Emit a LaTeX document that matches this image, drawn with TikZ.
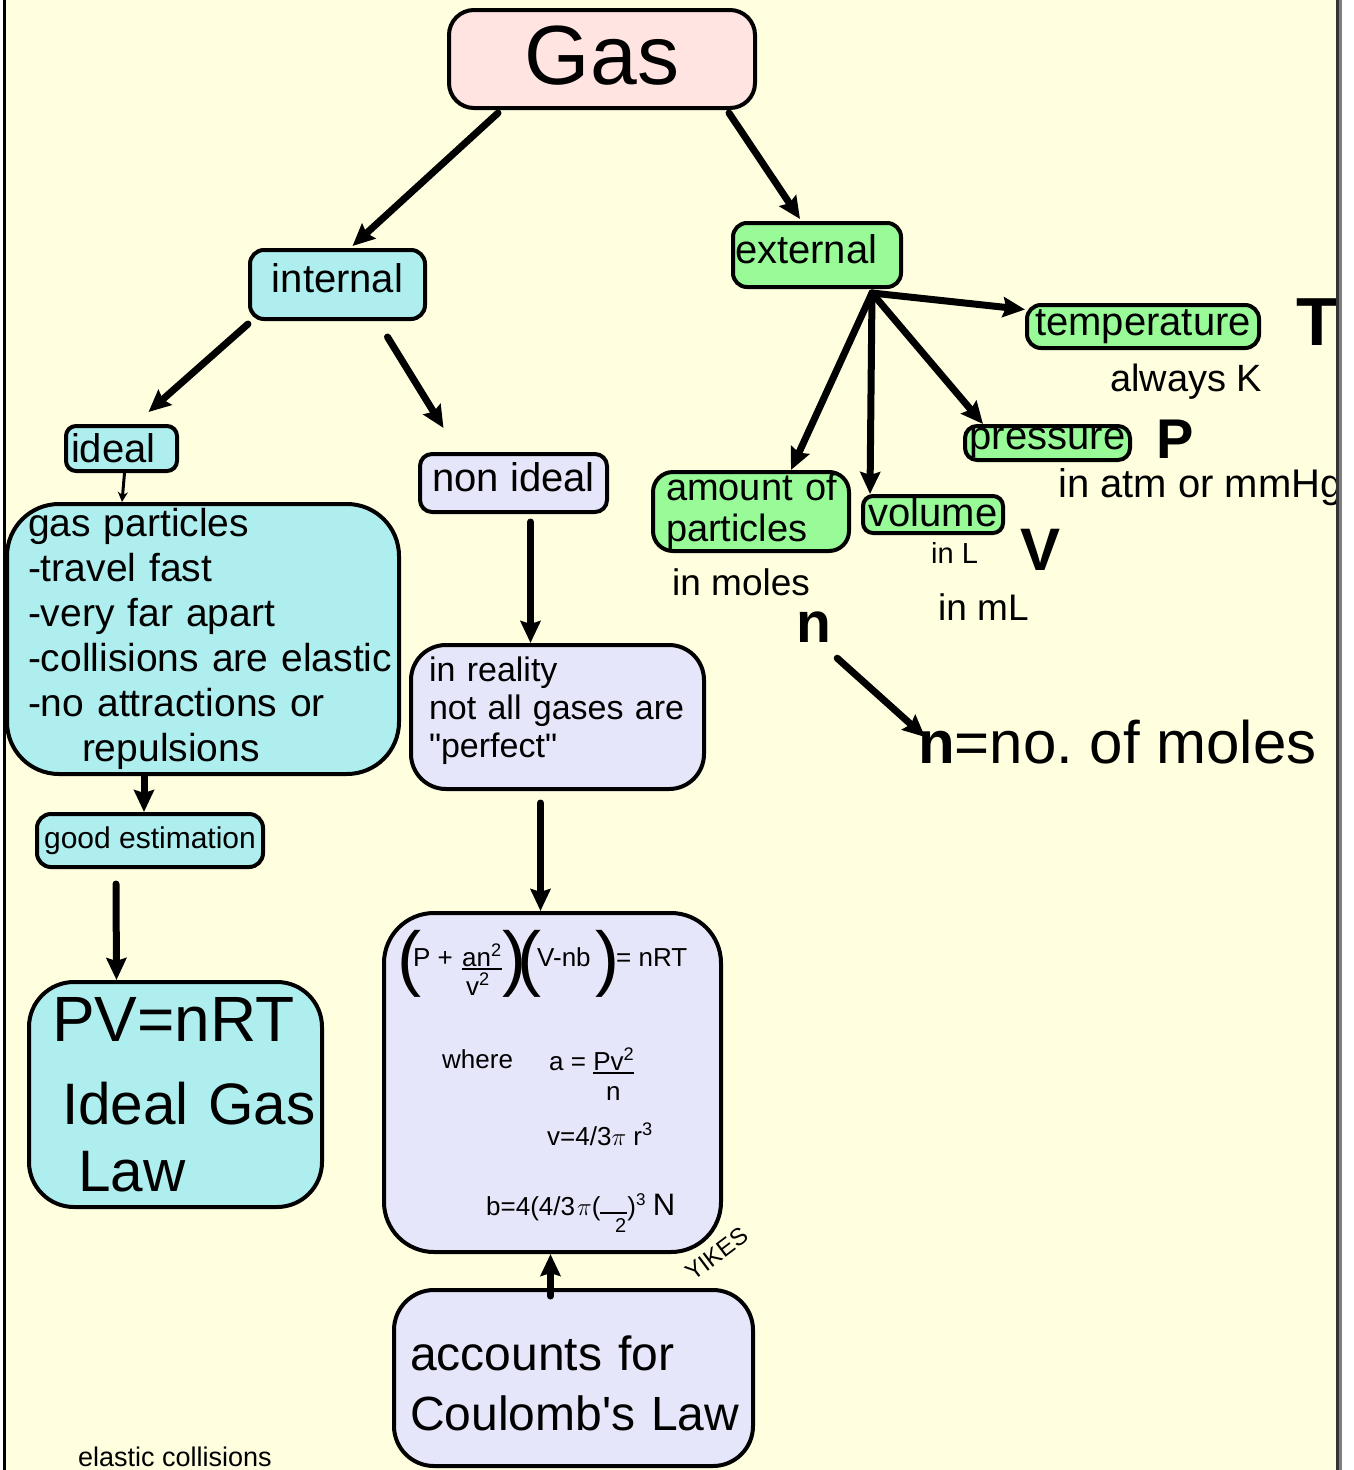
\documentclass[tikz,border=0pt]{standalone}
\usepackage{fontspec}
\setmainfont{Liberation Sans}
\usetikzlibrary{arrows.meta}

\definecolor{paper}{HTML}{FFFFE0}
\definecolor{gasfill}{HTML}{FFE4E1}
\definecolor{intfill}{HTML}{AFEEEE}
\definecolor{extfill}{HTML}{98FB98}
\definecolor{realfill}{HTML}{E6E6FA}

\frenchspacing
\newcommand{\fsz}[2]{\fontsize{#1pt}{#2pt}\selectfont}
\newcommand{\uline}[1]{\setbox0\hbox{#1}\leavevmode\rlap{\rule[-4pt]{\wd0}{1.6pt}}\box0}

\tikzset{
  mapbox/.style={draw, line width=4pt, rounded corners=#1, inner sep=0pt, font=\fsz{40}{45}},
  mapbox/.default=14pt,
  onel/.style={text height=29pt, text depth=13pt},
  link/.style={line width=7pt, line cap=round, -{Stealth[length=22pt,width=20pt,inset=3pt]}},
  thinlink/.style={line width=3pt, -{Stealth[length=10pt,width=10pt]}},
  note/.style={anchor=base west, inner sep=0pt},
  eqtxt/.style={anchor=base west, inner sep=0pt, font=\fsz{26}{30}}
}

\begin{document}
\begin{tikzpicture}[x=1pt,y=-1pt]

% Page
\useasboundingbox (0,0) rectangle (1353,1470);
\fill[white] (0,0) rectangle (1353,1470);
\fill[paper] (5,0) rectangle (1336,1470);
\draw[line width=3pt] (4,0) -- (4,1470);

% Top
\node[mapbox=25pt, fill=gasfill, minimum width=306pt, minimum height=98pt, font=\fsz{84}{84}, text depth=8pt] (gas) at (602,59) {Gas};
\node[mapbox, fill=intfill, minimum width=175pt, minimum height=69pt, onel] (internal) at (337.5,284.5) {internal};
\node[mapbox, fill=extfill, minimum width=168pt, minimum height=64pt, text width=164pt, align=left, onel] (external) at (817,255) {external};

% External branch
\node[mapbox, fill=extfill, minimum width=232pt, minimum height=43pt] (temperature) at (1143,326.5) {temperature};
\node[mapbox=12pt, fill=extfill, minimum width=165pt, minimum height=34pt] (pressure) at (1047.5,443) {pressure};
\node[mapbox=10pt, fill=extfill, minimum width=140pt, minimum height=37pt, text depth=6pt] (volume) at (933,514.5) {volume};
\node[mapbox=20pt, fill=extfill, minimum width=196pt, minimum height=79pt, text width=170pt, align=left, font=\fsz{38}{41}] (amount) at (751,511.5) {\mbox{amount of}\\particles};

\node[note, font=\bfseries\fsz{68}{68}] (bigT) at (1296,345) {T};
\node[note, font=\fsz{38}{40}] (alwaysK) at (1110,391) {always K};
\node[note, font=\bfseries\fsz{56}{56}] (bigP) at (1156,458) {P};
\node[note, font=\fsz{40}{44}] (inatm) at (1058,497) {in atm or mmHg};
\node[note, font=\bfseries\fsz{60}{60}] (bigV) at (1020,570) {V};
\node[note, font=\fsz{29}{32}] (inL) at (931,563) {in L};
\node[note, font=\fsz{37}{40}] (inmL) at (938,620) {in mL};
\node[note, font=\fsz{37}{40}] (inmoles) at (672,595) {in moles};
\node[note, font=\bfseries\fsz{57}{57}] (bign) at (796,642) {n};
\node[note, font=\fsz{60}{64}] (nmoles) at (918,763) {{\bfseries n}=no. of moles};

% Ideal side
\node[mapbox=10pt, fill=intfill, minimum width=111pt, minimum height=45pt, text width=101pt, align=left] (ideal) at (121.5,448.5) {ideal};
\node[mapbox=52pt, fill=intfill, minimum width=392pt, minimum height=270pt, text width=350pt, align=left, font=\fsz{39}{45}] (gaspart) at (203,639) {gas particles\\-travel fast\\-very far apart\\\mbox{-collisions are elastic}\\-no attractions or\\\hspace*{54pt}repulsions};
\node[mapbox, fill=intfill, minimum width=226pt, minimum height=53pt, font=\fsz{30}{34}] (goodest) at (150,840.5) {good estimation};
\node[mapbox=45pt, fill=intfill, minimum width=293pt, minimum height=225pt, text width=247pt, align=left, font=\fsz{58.5}{67}] (pv) at (175.5,1094.5) {{\fsz{64}{67}PV=nRT}\\[16pt]\hspace*{10pt}\mbox{Ideal Gas}\\\hspace*{26pt}Law};
\node[note, font=\fsz{27}{30}] (elastic) at (78,1466) {elastic collisions};

% Non ideal side
\node[mapbox=12pt, fill=realfill, minimum width=187pt, minimum height=58pt, onel] (nonideal) at (513.5,483) {non ideal};
\node[mapbox=35pt, fill=realfill, minimum width=293pt, minimum height=144pt, text width=257pt, align=left, font=\fsz{34}{38}, text depth=95pt] (reality) at (557.5,717) {in reality\\not all gases are\\\textquotedbl perfect\textquotedbl};
\node[mapbox=50pt, fill=realfill, minimum width=337pt, minimum height=339pt] (eqbox) at (552.5,1082.5) {};
\node[mapbox=40pt, fill=realfill, minimum width=359pt, minimum height=176pt, text width=327pt, align=left, font=\fsz{48}{60}, text height=45pt] (accounts) at (573.5,1378) {accounts for\\\mbox{Coulomb\textquotesingle s Law}};

% Van der Waals
\node[eqtxt, font=\fsz{72}{72}] (lpA) at (397,982) {(};
\node[eqtxt] (eqP) at (413,966) {P +};
\node[eqtxt] (eqan) at (462,966) {\uline{an\textsuperscript{2}}};
\node[eqtxt] (eqvv) at (466,995) {v\textsuperscript{2}};
\node[eqtxt, font=\fsz{72}{72}] (rpA) at (502,982) {)};
\node[eqtxt, font=\fsz{72}{72}] (lpB) at (517,982) {(};
\node[eqtxt] (eqVnb) at (537,966) {V-nb};
\node[eqtxt, font=\fsz{72}{72}] (rpB) at (595,982) {)};
\node[eqtxt] (eqnrt) at (616,966) {= nRT};
\node[eqtxt] (eqwhere) at (442,1068) {where};
\node[eqtxt] (eqa) at (549,1070) {a = \uline{Pv\textsuperscript{2}}};
\node[eqtxt] (eqn) at (606,1100) {n};
\node[eqtxt] (eqvol) at (547,1145) {v=4/3{\fsz{42}{42}$\pi$} r\textsuperscript{3}};
\node[eqtxt] (eqb) at (486,1215) {b=4(4/3\hspace{2pt}{\fsz{40}{40}$\pi$}(\rule[1pt]{27pt}{1.8pt})\raisebox{10pt}{\fsz{17}{17}3} {\fsz{31}{31}N}};
\node[eqtxt, font=\fsz{20}{22}] (eqtwo) at (615,1232) {2};
\node[font=\fsz{24}{26}, rotate=37, inner sep=0pt] (yikes) at (717,1254) {YIKES};

% Links
\draw[link] ([xshift=51pt,yshift=-3pt]gas.south west) -- ([xshift=15pt,yshift=2pt]internal.north);
\draw[link] ([xshift=-28pt,yshift=-3pt]gas.south east) -- ([xshift=-17pt,yshift=2pt]external.north);
\draw[link] ([yshift=-3pt]internal.south west) -- ([xshift=27pt,yshift=12pt]ideal.north);
\draw[link] ([xshift=50pt,yshift=-16pt]internal.south) -- ([xshift=-70pt,yshift=24pt]nonideal.north);
\draw[thinlink] ([xshift=3pt]ideal.south) -- ([xshift=-81pt]gaspart.north);
\draw[link] ([xshift=-59pt]gaspart.south) -- ([xshift=-6pt]goodest.north);
\draw[link] ([xshift=-34pt,yshift=-15pt]goodest.south) -- ([xshift=-59pt]pv.north);
\draw[link] ([xshift=17pt,yshift=-8pt]nonideal.south) -- ([xshift=-27pt]reality.north);
\draw[link] ([xshift=-17pt,yshift=-12pt]reality.south) -- ([xshift=-12pt]eqbox.north);
\draw[link] ([xshift=-23pt,yshift=-8pt]accounts.north) -- ([xshift=-2pt]eqbox.south);

% External hub
\coordinate (hub) at ([xshift=55pt,yshift=-4pt]external.south);
\draw[link] (hub) -- ([yshift=17pt]temperature.west);
\draw[link] (hub) -- ([xshift=20pt]pressure.north west);
\draw[link] (hub) -- ([xshift=9pt]volume.north west);
\draw[link] (hub) -- ([xshift=40pt]amount.north);
\draw[link] ([xshift=6pt,yshift=-16pt]bign.south east) -- ([xshift=7pt,yshift=26pt]nmoles.base west);

% Right edge
\fill[black!80] (1336,0) rectangle (1339,1470);
\fill[gray] (1339,0) rectangle (1342,1470);
\fill[white] (1342,0) rectangle (1353,1470);

\end{tikzpicture}
\end{document}
